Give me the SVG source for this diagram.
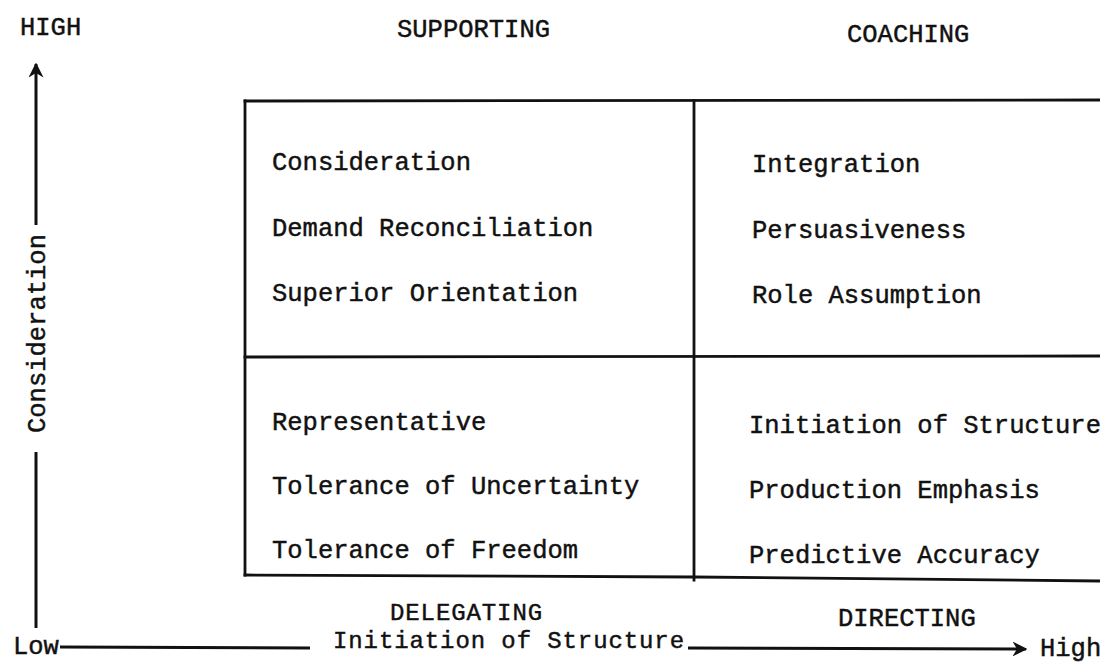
<svg xmlns="http://www.w3.org/2000/svg" width="1100" height="668" viewBox="0 0 1100 668">
<style>
text{font-family:"Liberation Mono","Courier New",monospace;font-size:25.5px;fill:#111;stroke:#111;stroke-width:0.45}
text.sm{font-size:24px;letter-spacing:0.9px}
.ln{stroke:#111;stroke-width:2.8;fill:none;stroke-linecap:square}
.ax{stroke:#111;stroke-width:3;fill:none}
</style>
<defs>
<marker id="ah" viewBox="0 0 10 10" refX="9" refY="5" markerWidth="5" markerHeight="5" orient="auto" markerUnits="strokeWidth">
<path d="M0,0 L10,5 L0,10 L3,5 Z" fill="#111"/>
</marker>
</defs>
<rect width="1100" height="668" fill="#fff"/>
<g id="grid">
<path class="ln" d="M245,101 L1100,100"/>
<path class="ln" d="M245,101 L245,575"/>
<path class="ln" d="M694,101 L694,580"/>
<path class="ln" d="M245,357 L1100,356"/>
<path class="ln" d="M245,575 L694,577 L1100,581"/>
</g>
<g id="supporting">
<text x="397" y="37">SUPPORTING</text>
<text x="272" y="170">Consideration</text>
<text x="272" y="236">Demand Reconciliation</text>
<text x="272" y="301">Superior Orientation</text>
</g>
<g id="coaching">
<text x="847" y="42">COACHING</text>
<text x="752" y="172">Integration</text>
<text x="752" y="238">Persuasiveness</text>
<text x="752" y="303">Role Assumption</text>
</g>
<g id="delegating">
<text class="sm" x="390" y="620">DELEGATING</text>
<text x="272" y="430">Representative</text>
<text x="272" y="494">Tolerance of Uncertainty</text>
<text x="272" y="558">Tolerance of Freedom</text>
</g>
<g id="directing">
<text x="838" y="626">DIRECTING</text>
<text x="749" y="433">Initiation of Structure</text>
<text x="749" y="498">Production Emphasis</text>
<text x="749" y="563">Predictive Accuracy</text>
</g>
<g id="axes">
<text x="20" y="35">HIGH</text>
<text x="13" y="654">Low</text>
<text x="1040" y="656">High</text>
<text transform="translate(45,433) rotate(-90)" x="0" y="0">Consideration</text>
<text class="sm" x="333" y="648">Initiation of Structure</text>
<path class="ax" d="M36,628 L36,452"/>
<path class="ax" d="M36,225 L36,64" marker-end="url(#ah)"/>
<path class="ax" d="M60,647 L310,648"/>
<path class="ax" d="M688,648 L1026,649" marker-end="url(#ah)"/>
</g>
</svg>
